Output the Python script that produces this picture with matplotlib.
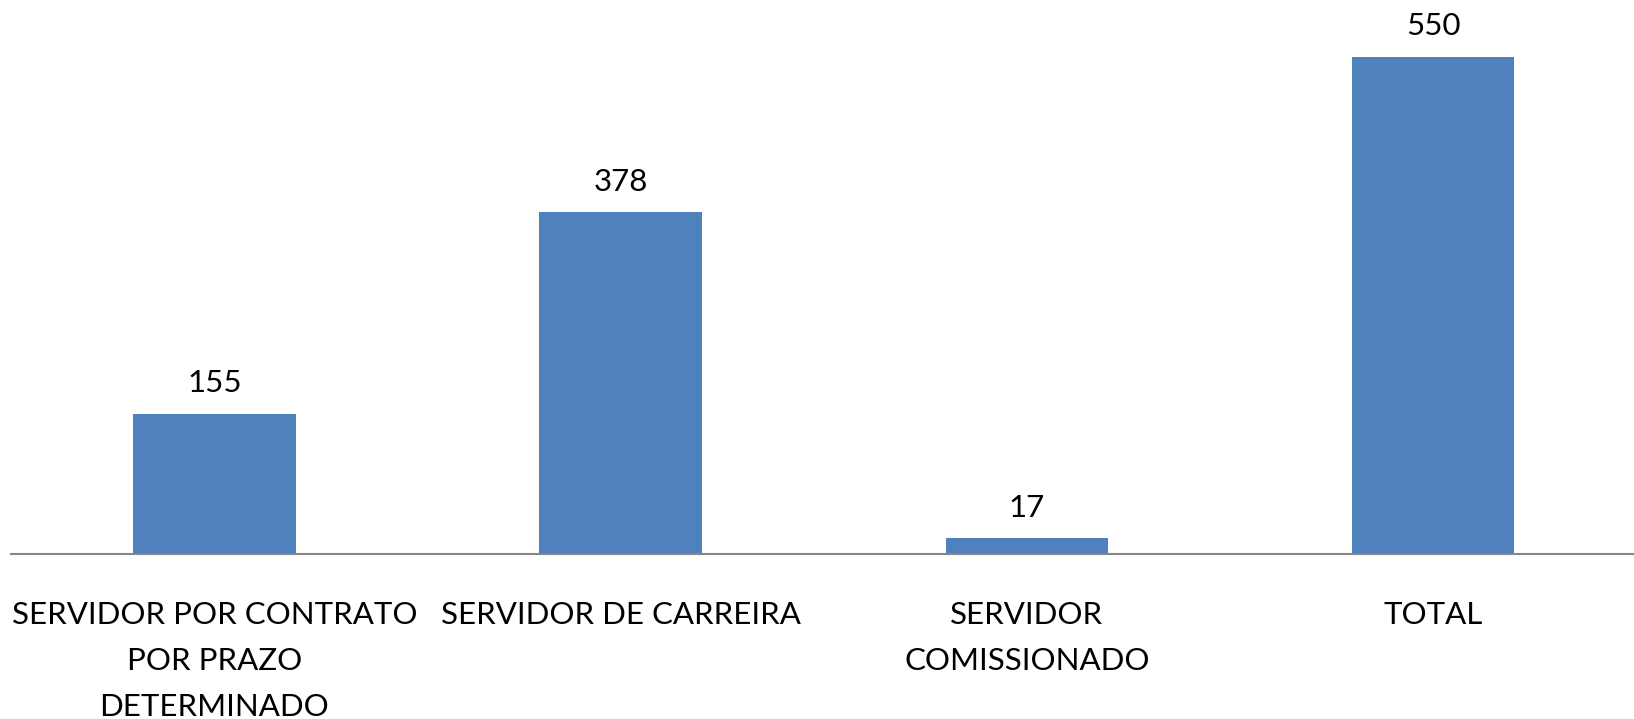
import matplotlib
matplotlib.use("Agg")
import matplotlib.pyplot as plt

categorias = ["SERVIDOR POR CONTRATO\nPOR PRAZO\nDETERMINADO",
              "SERVIDOR DE CARREIRA",
              "SERVIDOR\nCOMISSIONADO",
              "TOTAL"]
valores = [155, 378, 17, 550]

plt.rcParams['font.family'] = ['Lato', 'DejaVu Sans']

fig = plt.figure(figsize=(16.34, 7.19), dpi=100)
# baseline at y=554 px, axes reach the top of the image
ax = fig.add_axes([11.3 / 1634, (719 - 553.7) / 719, 1625 / 1634, 553.7 / 719])

x = range(len(valores))
barras = ax.bar(x, valores, width=0.40, color='#4F81BD')
ax.set_xlim(-0.5, 3.5)
ax.set_ylim(0, 613)

for b, v in zip(barras, valores):
    ax.annotate(str(v), (b.get_x() + b.get_width() / 2, v), xytext=(0, 22),
                textcoords='offset points', ha='center', va='center', fontsize=22.5)

ax.set_xticks(list(x))
ax.set_xticklabels(categorias, fontsize=22.5, linespacing=1.78, va='top')
ax.tick_params(axis='x', length=0, pad=34)
ax.set_yticks([])
for s in ['top', 'left', 'right']:
    ax.spines[s].set_visible(False)
ax.spines['bottom'].set_color('#868686')
ax.spines['bottom'].set_linewidth(1.5)

fig.savefig('out.png', dpi=100)
